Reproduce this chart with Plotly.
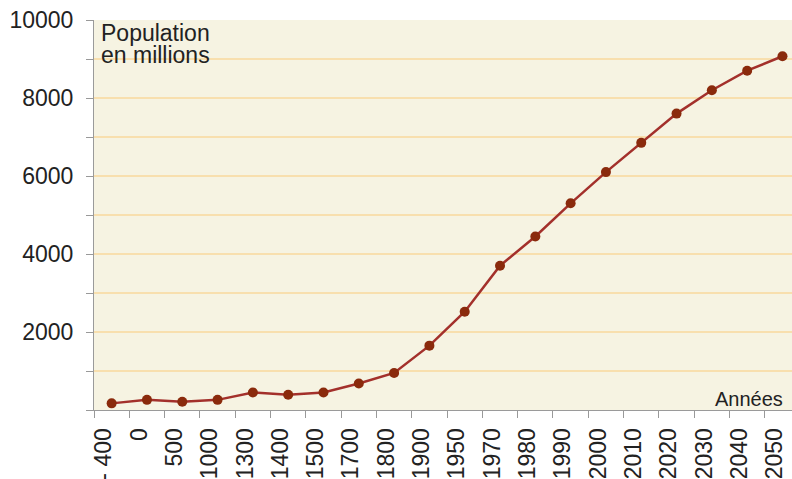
import plotly.graph_objects as go

years = ["- 400", "0", "500", "1000", "1300", "1400", "1500", "1700", "1800",
         "1900", "1950", "1970", "1980", "1990", "2000", "2010", "2020",
         "2030", "2040", "2050"]
population = [170, 260, 210, 260, 450, 390, 450, 680, 950,
              1650, 2520, 3700, 4450, 5300, 6100, 6850, 7600,
              8200, 8700, 9070]

y_tickvals = [0, 1000, 2000, 3000, 4000, 5000, 6000, 7000, 8000, 9000, 10000]
y_ticktext = ["", "", "2000", "", "4000", "", "6000", "", "8000", "", "10000"]

FONT = "Liberation Sans, Arial, Helvetica, sans-serif"

idx = list(range(len(years)))
label_pos = [i - 0.22 for i in idx]

fig = go.Figure()
fig.add_trace(go.Scatter(
    x=idx, y=population, mode="lines+markers",
    line=dict(color="#A3302B", width=2.5),
    marker=dict(color="#8A2A0C", size=10),
    hoverinfo="skip",
))

fig.update_layout(
    width=792, height=479,
    margin=dict(l=94, r=0, t=20, b=69, pad=0, autoexpand=False),
    paper_bgcolor="white",
    plot_bgcolor="#F6F3E2",
    showlegend=False,
    font=dict(family=FONT, color="#222222", size=23),
    xaxis=dict(
        range=[-0.5, 19.27],
        automargin=False,
        tickmode="array", tickvals=label_pos, ticktext=years,
        ticks="", ticklabelstandoff=8,
        minor=dict(tick0=-0.5, dtick=1, ticks="outside", ticklen=7,
                   tickcolor="#999999", tickwidth=1, showgrid=False),
        tickangle=-90,
        showgrid=False,
        showline=True, linecolor="#9a9a9a", linewidth=1,
        tickfont=dict(size=23, color="#222222"),
        zeroline=False,
    ),
    yaxis=dict(
        range=[0, 10000],
        automargin=False,
        tickmode="array", tickvals=y_tickvals, ticktext=y_ticktext,
        ticks="outside", ticklen=7, tickcolor="#999999", tickwidth=1,
        showgrid=True, gridcolor="#F8DFAE", gridwidth=2,
        showline=True, linecolor="#9a9a9a", linewidth=1,
        zeroline=False,
        tickfont=dict(size=23, color="#222222"),
        ticklabelstandoff=8,
    ),
    annotations=[
        dict(text="Population", xref="paper", yref="y", x=5/698, y=9660,
             xanchor="left", yanchor="middle", showarrow=False,
             font=dict(size=23, color="#222222", family=FONT)),
        dict(text="en millions", xref="paper", yref="y", x=5/698, y=9110,
             xanchor="left", yanchor="middle", showarrow=False,
             font=dict(size=23, color="#222222", family=FONT)),
        dict(text="Années", xref="paper", yref="y", x=(785-94)/698, y=280,
             xanchor="right", yanchor="middle", showarrow=False,
             font=dict(size=20, color="#222222", family=FONT)),
    ],
)

fig.write_html("out.html",
               config={"displayModeBar": False, "staticPlot": True},
               post_script="document.body.style.margin='0';document.body.style.overflow='hidden';")
